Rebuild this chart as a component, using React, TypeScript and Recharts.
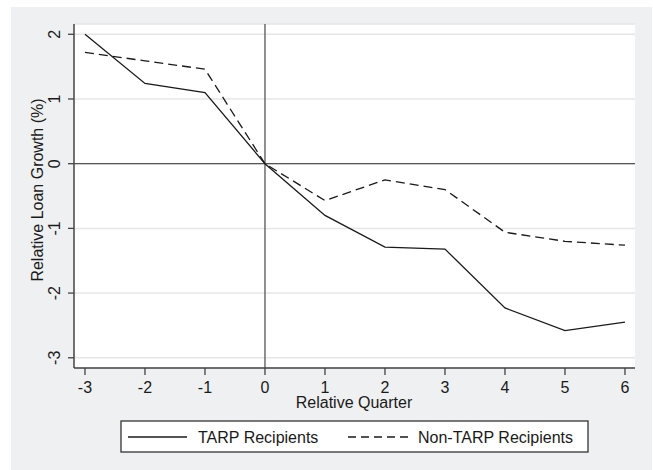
import React from "react"
import { LineChart, Line, XAxis, YAxis, CartesianGrid, ReferenceLine, Label } from "recharts"

const quarters = [-3, -2, -1, 0, 1, 2, 3, 4, 5, 6]
const tarpGrowth = [2.0, 1.24, 1.1, 0, -0.8, -1.29, -1.32, -2.23, -2.58, -2.45]
const nonTarpGrowth = [1.72, 1.59, 1.46, 0, -0.57, -0.25, -0.4, -1.06, -1.2, -1.26]
const yTicks = [-3, -2, -1, 0, 1, 2]
const xTicks = quarters

const seriesNames = ["TARP Recipients", "Non-TARP Recipients"]
const font = "'Liberation Sans', Arial, sans-serif"
const ink = "#1a1a1a"
const axisColor = "#444"

const data = quarters.map((q, i) => ({
  q,
  tarp: tarpGrowth[i],
  nonTarp: nonTarpGrowth[i],
}))

const YTick = (props: any) => {
  const { y, payload } = props
  const x = 54
  return (
    <text
      x={x}
      y={y}
      dy="0.35em"
      textAnchor="middle"
      transform={`rotate(-90 ${x} ${y})`}
      fontSize={16}
      fontFamily={font}
      fill={ink}
    >
      {payload.value}
    </text>
  )
}

const XTick = (props: any) => {
  const { x, payload } = props
  return (
    <text x={x} y={393} textAnchor="middle" fontSize={16} fontFamily={font} fill={ink}>
      {payload.value}
    </text>
  )
}

function ChartLegend() {
  return (
    <svg width={469} height={33} style={{ position: "absolute", left: 120, top: 420 }}>
      <rect x={1} y={1} width={467} height={31} fill="#fff" stroke="#333" strokeWidth={1.3} />
      <line x1={8} x2={67} y1={17} y2={17} stroke={ink} strokeWidth={1.3} />
      <text x={78} y={22.5} fontSize={16} fontFamily={font} fill={ink}>
        {seriesNames[0]}
      </text>
      <line x1={228} x2={289} y1={17} y2={17} stroke={ink} strokeWidth={1.3} strokeDasharray="8 5" />
      <text x={298} y={22.5} fontSize={16} fontFamily={font} fill={ink}>
        {seriesNames[1]}
      </text>
    </svg>
  )
}

export default function App() {
  return (
    <div style={{ position: "absolute", left: 0, top: 0, width: 653, height: 470, background: "#fff" }}>
      <div style={{ position: "absolute", left: 11, top: 7, width: 641, height: 463, background: "#eef0f1" }} />
      <div style={{ position: "absolute", left: 0, top: 0 }}>
        <LineChart width={653} height={470} data={data} margin={{ top: 24, right: 18, bottom: 62, left: 0 }}>
          <CartesianGrid vertical={false} fill="#fff" stroke="#e6e6e6" strokeWidth={1.5} />
          <XAxis
            type="number"
            dataKey="q"
            domain={[-3.183, 6.167]}
            ticks={xTicks}
            allowDataOverflow
            height={40}
            tickSize={7}
            tick={<XTick />}
            axisLine={{ stroke: axisColor, strokeWidth: 1.5 }}
            tickLine={{ stroke: axisColor, strokeWidth: 1.3 }}
          >
            <Label
              content={() => (
                <text x={354} y={408} textAnchor="middle" fontSize={16} fontFamily={font} fill={ink}>
                  Relative Quarter
                </text>
              )}
            />
          </XAxis>
          <YAxis
            type="number"
            domain={[-3.158, 2.159]}
            ticks={yTicks}
            allowDataOverflow
            width={74}
            tickSize={6}
            tick={<YTick />}
            axisLine={{ stroke: axisColor, strokeWidth: 1.5 }}
            tickLine={{ stroke: axisColor, strokeWidth: 1.3 }}
          >
            <Label
              content={() => (
                <text
                  x={37}
                  y={190}
                  dy="0.35em"
                  textAnchor="middle"
                  transform="rotate(-90 37 190)"
                  fontSize={16}
                  fontFamily={font}
                  fill={ink}
                >
                  Relative Loan Growth (%)
                </text>
              )}
            />
          </YAxis>
          <ReferenceLine x={0} stroke="#555" strokeWidth={1.3} />
          <ReferenceLine y={0} stroke="#555" strokeWidth={1.3} />
          <Line
            type="linear"
            dataKey="tarp"
            name={seriesNames[0]}
            stroke={ink}
            strokeWidth={1.3}
            dot={false}
            isAnimationActive={false}
          />
          <Line
            type="linear"
            dataKey="nonTarp"
            name={seriesNames[1]}
            stroke={ink}
            strokeWidth={1.3}
            strokeDasharray="9 5"
            dot={false}
            isAnimationActive={false}
          />
        </LineChart>
      </div>
      <ChartLegend />
    </div>
  )
}
